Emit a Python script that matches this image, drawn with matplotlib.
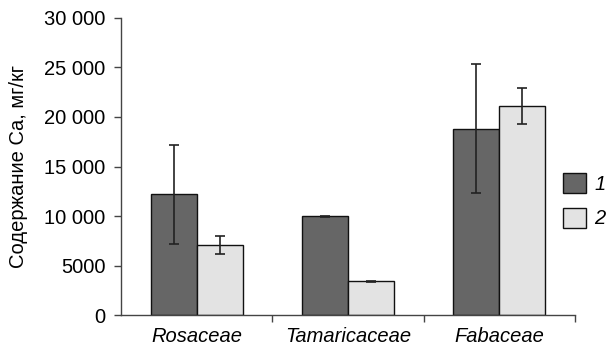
import numpy as np
import matplotlib
matplotlib.use('Agg')
import matplotlib.pyplot as plt
from matplotlib.patches import Patch

plt.rcParams['font.family'] = ['Liberation Sans', 'DejaVu Sans']

# данные >>>>>>>>>>>>>>>>>>>>>>>>>>>>>>>>>>>>>>>>>>>>>>>>>>>>>>>>>>>>>>
families = ['Rosaceae', 'Tamaricaceae', 'Fabaceae']
ca_1 = [12200, 10000, 18800]
err_1 = [5000, 60, 6500]
ca_2 = [7100, 3450, 21100]
err_2 = [950, 50, 1800]
series_names = ['1', '2']
y_ticks = [0, 5000, 10000, 15000, 20000, 25000, 30000]
y_labels = ['0', '5000', '10 000', '15 000', '20 000', '25 000', '30 000']

# рисунок >>>>>>>>>>>>>>>>>>>>>>>>>>>>>>>>>>>>>>>>>>>>>>>>>>>>>>>>>>>>>
fig = plt.figure(figsize=(6.06, 3.48), dpi=100)
ax = fig.add_axes([0.1997, 0.0934, 0.749, 0.8557])

x = np.arange(len(families))
w = 0.305
c_dark, c_light = '#666666', '#e3e3e3'
ekw = dict(elinewidth=1.2, capthick=1.2, ecolor='#222222')
fs = 14.5

ax.bar(x - w / 2, ca_1, width=w, color=c_dark, edgecolor='#111111',
       linewidth=1.0, yerr=err_1, capsize=3.5, error_kw=ekw)
ax.bar(x + w / 2, ca_2, width=w, color=c_light, edgecolor='#111111',
       linewidth=1.0, yerr=err_2, capsize=3.5, error_kw=ekw)

ax.set_xlim(-0.5, 2.5)
ax.set_ylim(0, 30000)
ax.set_yticks(y_ticks)
ax.set_yticklabels(y_labels)
ax.set_xticks(x)
ax.set_xticklabels(families, style='italic')
ax.set_xticks([0.5, 1.5, 2.5], minor=True)
ax.tick_params(axis='x', which='major', length=0, pad=8.5, labelsize=fs)
ax.tick_params(axis='x', which='minor', length=5, width=1.0, color='#444444')
ax.tick_params(axis='y', length=5, width=1.0, color='#444444', labelsize=fs, pad=6)

for s in ['top', 'right']:
    ax.spines[s].set_visible(False)
for s in ['left', 'bottom']:
    ax.spines[s].set_color('#444444')
    ax.spines[s].set_linewidth(1.0)

ax.set_ylabel('Содержание Ca, мг/кг', fontsize=fs, labelpad=12)

handles = [Patch(facecolor=c_dark, edgecolor='#111111', linewidth=1.0),
           Patch(facecolor=c_light, edgecolor='#111111', linewidth=1.0)]
leg = ax.legend(handles, series_names, loc='upper left',
                bbox_to_anchor=(0.974, 0.478), frameon=False,
                handlelength=1.15, handleheight=1.15, handletextpad=0.4,
                labelspacing=0.68, borderpad=0, borderaxespad=0,
                prop=dict(size=fs, style='italic'))

fig.savefig('out.png', dpi=100)
